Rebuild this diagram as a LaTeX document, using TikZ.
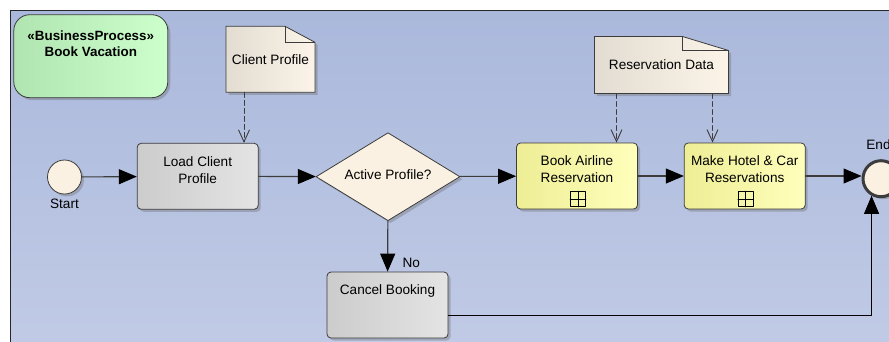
\documentclass[tikz,border=0pt]{standalone}
\usepackage{fontspec}
\setmainfont{Liberation Sans}
\usetikzlibrary{arrows.meta,shapes.geometric,shadows,backgrounds}
\definecolor{bgtop}{RGB}{170,184,219}
\definecolor{bgbot}{RGB}{193,203,230}
\definecolor{grnl}{RGB}{176,228,176}
\definecolor{grnr}{RGB}{204,255,204}
\definecolor{docl}{RGB}{226,220,210}
\definecolor{docr}{RGB}{252,244,232}
\definecolor{evfill}{RGB}{250,241,226}
\definecolor{tskl}{RGB}{204,204,204}
\definecolor{tskr}{RGB}{228,228,228}
\definecolor{subl}{RGB}{238,238,150}
\definecolor{subr}{RGB}{255,255,188}
\definecolor{edge}{RGB}{60,60,60}

\begin{document}
\begin{tikzpicture}[line cap=round,line join=round,x=1pt,y=-1pt,
	font=\fontsize{13.6}{17}\selectfont,
	shd/.style={drop shadow={shadow xshift=2.5pt,shadow yshift=-2.5pt,opacity=0.35,fill=black!60}},
	flow/.style={draw=edge,line width=1.1pt,-{Triangle[length=18pt,width=15pt,color=black,fill=black]}},
	assoc/.style={draw=edge,line width=0.9pt,dash pattern=on 5pt off 3pt,-{Straight Barb[length=12pt,width=11pt]}},
	task/.style={draw=edge,line width=0.8pt,rounded corners=4pt,minimum width=121pt,minimum height=66pt,left color=tskl,right color=tskr,shd},
	subproc/.style={task,left color=subl,right color=subr},
	tasktext/.style={anchor=north,yshift=-10pt,align=center},
	event/.style={circle,draw=edge,line width=0.8pt,fill=evfill,minimum size=34pt,inner sep=0pt,shd},
	plusbox/.style={draw=black,line width=0.7pt,minimum size=15pt,inner sep=0pt},
	docnode/.style={minimum width=#1,minimum height=57pt,outer sep=0pt},
	docbox/.style={draw=edge,line width=0.8pt,left color=docl,right color=docr,shd}]
	\useasboundingbox (0,0) rectangle (889,341);

	\node[draw=edge,line width=0.8pt,rounded corners=16pt,minimum width=154pt,minimum height=83pt,left color=grnl,right color=grnr,shd,
		label={[tasktext,yshift=-3pt,font=\fontsize{13.4}{15.5}\selectfont\bfseries]north:«BusinessProcess»\\Book Vacation}] (bp) at (90.8,56.2) {};

	\node[docnode=89pt,minimum height=66pt] (cp) at (270.5,59.3) {\raisebox{-3pt}{Client Profile}};
	\node[docnode=134pt] (rd) at (661.5,65) {\raisebox{-4pt}{Reservation Data}};

	\node[event,label={[yshift=-1.5pt]below:Start}] (start) at (64.5,177) {};
	\node[task,label={[tasktext]north:Load Client\\Profile}] (load) at (197.7,176.3) {};
	\node[diamond,aspect=1.64,inner sep=0pt,minimum width=144pt,minimum height=88pt,draw=edge,line width=0.8pt,fill=evfill,shd] (act) at (388,176.7) {\raisebox{4pt}{Active Profile?}};
	\node[subproc,label={[tasktext]north:Book Airline\\Reservation}] (air) at (577,176) {};
	\node[subproc,label={[tasktext]north:Make Hotel \& Car\\Reservations}] (hotel) at (744.7,176) {};
	\node[task,label={[tasktext]north:Cancel Booking}] (cancel) at (387.5,305) {};
	\node[event,line width=3pt,minimum size=36pt,label={[xshift=-2.5pt,yshift=6pt]above:End}] (end) at (881,178.7) {};

	\node[plusbox] (airplus) at ([xshift=1pt,yshift=-23pt]air.center) {};
	\node[plusbox] (hotelplus) at ([xshift=1pt,yshift=-23pt]hotel.center) {};
	\draw[line width=0.7pt] (airplus.north) -- (airplus.south) (airplus.west) -- (airplus.east);
	\draw[line width=0.7pt] (hotelplus.north) -- (hotelplus.south) (hotelplus.west) -- (hotelplus.east);

	\begin{scope}[on background layer]
		\shade[top color=bgtop,bottom color=bgbot,draw=black!85,line width=0.8pt] (10.5,10.5) rectangle (900,350);
		\path[docbox] (cp.south west) -- (cp.north west) -- ([xshift=-30pt]cp.north east) -- ([yshift=-16pt]cp.north east) -- (cp.south east) -- cycle;
		\draw[edge,line width=0.8pt] ([xshift=-30pt]cp.north east) -- ([xshift=-30pt,yshift=-16pt]cp.north east) -- ([yshift=-16pt]cp.north east);
		\path[docbox] (rd.south west) -- (rd.north west) -- ([xshift=-46pt]rd.north east) -- ([yshift=-14pt]rd.north east) -- (rd.south east) -- cycle;
		\draw[edge,line width=0.8pt] ([xshift=-46pt]rd.north east) -- ([xshift=-46pt,yshift=-14pt]rd.north east) -- ([yshift=-14pt]rd.north east);
	\end{scope}

	\draw[flow] (start) -- (load);
	\draw[flow] (load) -- (act);
	\draw[flow] (act) -- (air);
	\draw[flow] (air) -- (hotel);
	\draw[flow] (hotel.east) -- (hotel.east -| end.west);
	\draw[flow] (act) -- node[pos=0.83,anchor=west,xshift=11pt] (no) {No} (cancel);
	\draw[flow,draw=black,line width=0.8pt] ([yshift=-10pt]cancel.east) -| (end.241);

	\draw[assoc] ([xshift=-26.5pt]cp.south) -- ([xshift=-26.5pt]cp.south |- load.north);
	\draw[assoc] ([xshift=-45pt]rd.south) -- ([xshift=-45pt]rd.south |- air.north);
	\draw[assoc] ([xshift=51pt]rd.south) -- ([xshift=51pt]rd.south |- hotel.north);
\end{tikzpicture}
\end{document}
